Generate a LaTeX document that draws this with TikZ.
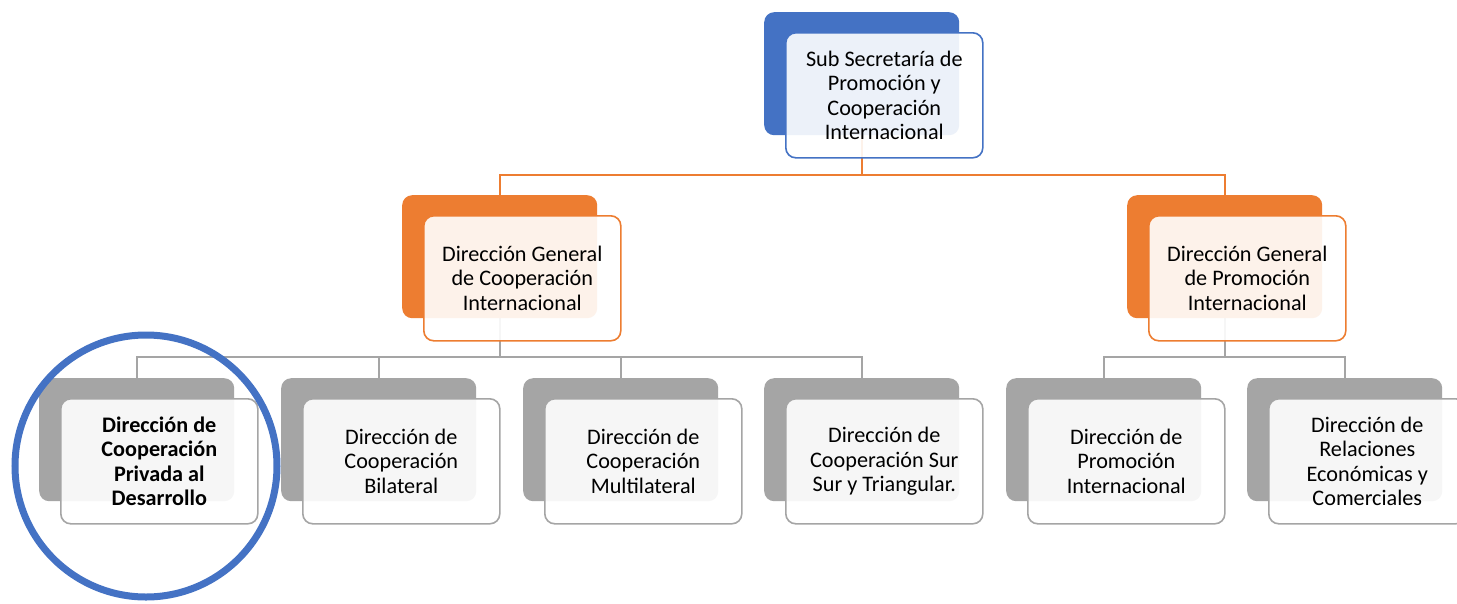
\documentclass[tikz,border=0pt]{standalone}
\usepackage{fontspec}
\setmainfont{Carlito}
\usetikzlibrary{backgrounds}
\definecolor{cblue}{HTML}{4472C4}
\definecolor{corange}{HTML}{ED7D31}
\definecolor{cgray}{HTML}{A5A5A5}
\tikzset{
  backbox/.style={rectangle, rounded corners=10pt, minimum width=195pt, minimum height=123pt,
    anchor=north west, inner sep=0pt, draw=none},
  frontbox/.style={rectangle, rounded corners=10pt, minimum width=197pt, minimum height=125pt,
    anchor=north west, inner sep=2pt, fill=white, fill opacity=0.9, text opacity=1,
    line width=1.6pt, align=center, font=\fontsize{22.2}{24.5}\selectfont},
  bluefront/.style={frontbox, draw=cblue},
  orangefront/.style={frontbox, draw=corange},
  grayfront/.style={frontbox, draw=cgray},
  orangeline/.style={draw=corange, line width=2pt},
  grayline/.style={draw=cgray, line width=2pt},
  ring/.style={draw=cblue, line width=7pt},
}
\begin{document}
\begin{tikzpicture}[x=1pt,y=-1pt]
\path[use as bounding box] (0,0) rectangle (1457,603);
% back boxes
\node[backbox, fill=cblue]   (b0) at (764,12) {};
\node[backbox, fill=corange] (bL) at (402,195) {};
\node[backbox, fill=corange] (bR) at (1127,195) {};
\node[backbox, fill=cgray] (b1) at (39,378) {};
\node[backbox, fill=cgray] (b2) at (281,378) {};
\node[backbox, fill=cgray] (b3) at (523,378) {};
\node[backbox, fill=cgray] (b4) at (764,378) {};
\node[backbox, fill=cgray] (b5) at (1006,378) {};
\node[backbox, fill=cgray] (b6) at (1247,378) {};
% connectors behind
\begin{pgfonlayer}{background}
\fill[white] (0,0) rectangle (1457,603);
\draw[orangeline] (b0.south) -- ++(0,40) -| (bL.north);
\draw[orangeline] (b0.south) -- ++(0,40) -| (bR.north);
\draw[grayline] (bL.south) -- ++(0,39) -| (b1.north);
\draw[grayline] (bL.south) -- ++(0,39) -| (b2.north);
\draw[grayline] (bL.south) -- ++(0,39) -| (b3.north);
\draw[grayline] (bL.south) -- ++(0,39) -| (b4.north);
\draw[grayline] (bR.south) -- ++(0,39) -| (b5.north);
\draw[grayline] (bR.south) -- ++(0,39) -| (b6.north);
\end{pgfonlayer}
% front boxes
\node[bluefront] (f0) at (785,32) {Sub Secretaría de\\Promoción y\\Cooperación\\Internacional};
\node[orangefront] (fL) at (423,215) {Dirección General\\de Cooperación\\Internacional};
\node[orangefront] (fR) at (1148,215) {Dirección General\\de Promoción\\Internacional};
\node[grayfront] (f1) at (60,398) {\bfseries Dirección de\\\bfseries Cooperación\\\bfseries Privada al\\\bfseries Desarrollo};
\node[grayfront] (f2) at (302,398) {Dirección de\\Cooperación\\Bilateral};
\node[grayfront] (f3) at (544,398) {Dirección de\\Cooperación\\Multilateral};
\node[grayfront] (f4) at (785,398) {Dirección de\\Cooperación Sur\\Sur y Triangular.};
\node[grayfront] (f5) at (1027,398) {Dirección de\\Promoción\\Internacional};
\node[grayfront] (f6) at (1268,398) {Dirección de\\Relaciones\\Económicas y\\Comerciales};
% highlight ring
\node[ring, circle, minimum size=262pt, inner sep=0pt] (ring) at (146,466) {};
\end{tikzpicture}
\end{document}
